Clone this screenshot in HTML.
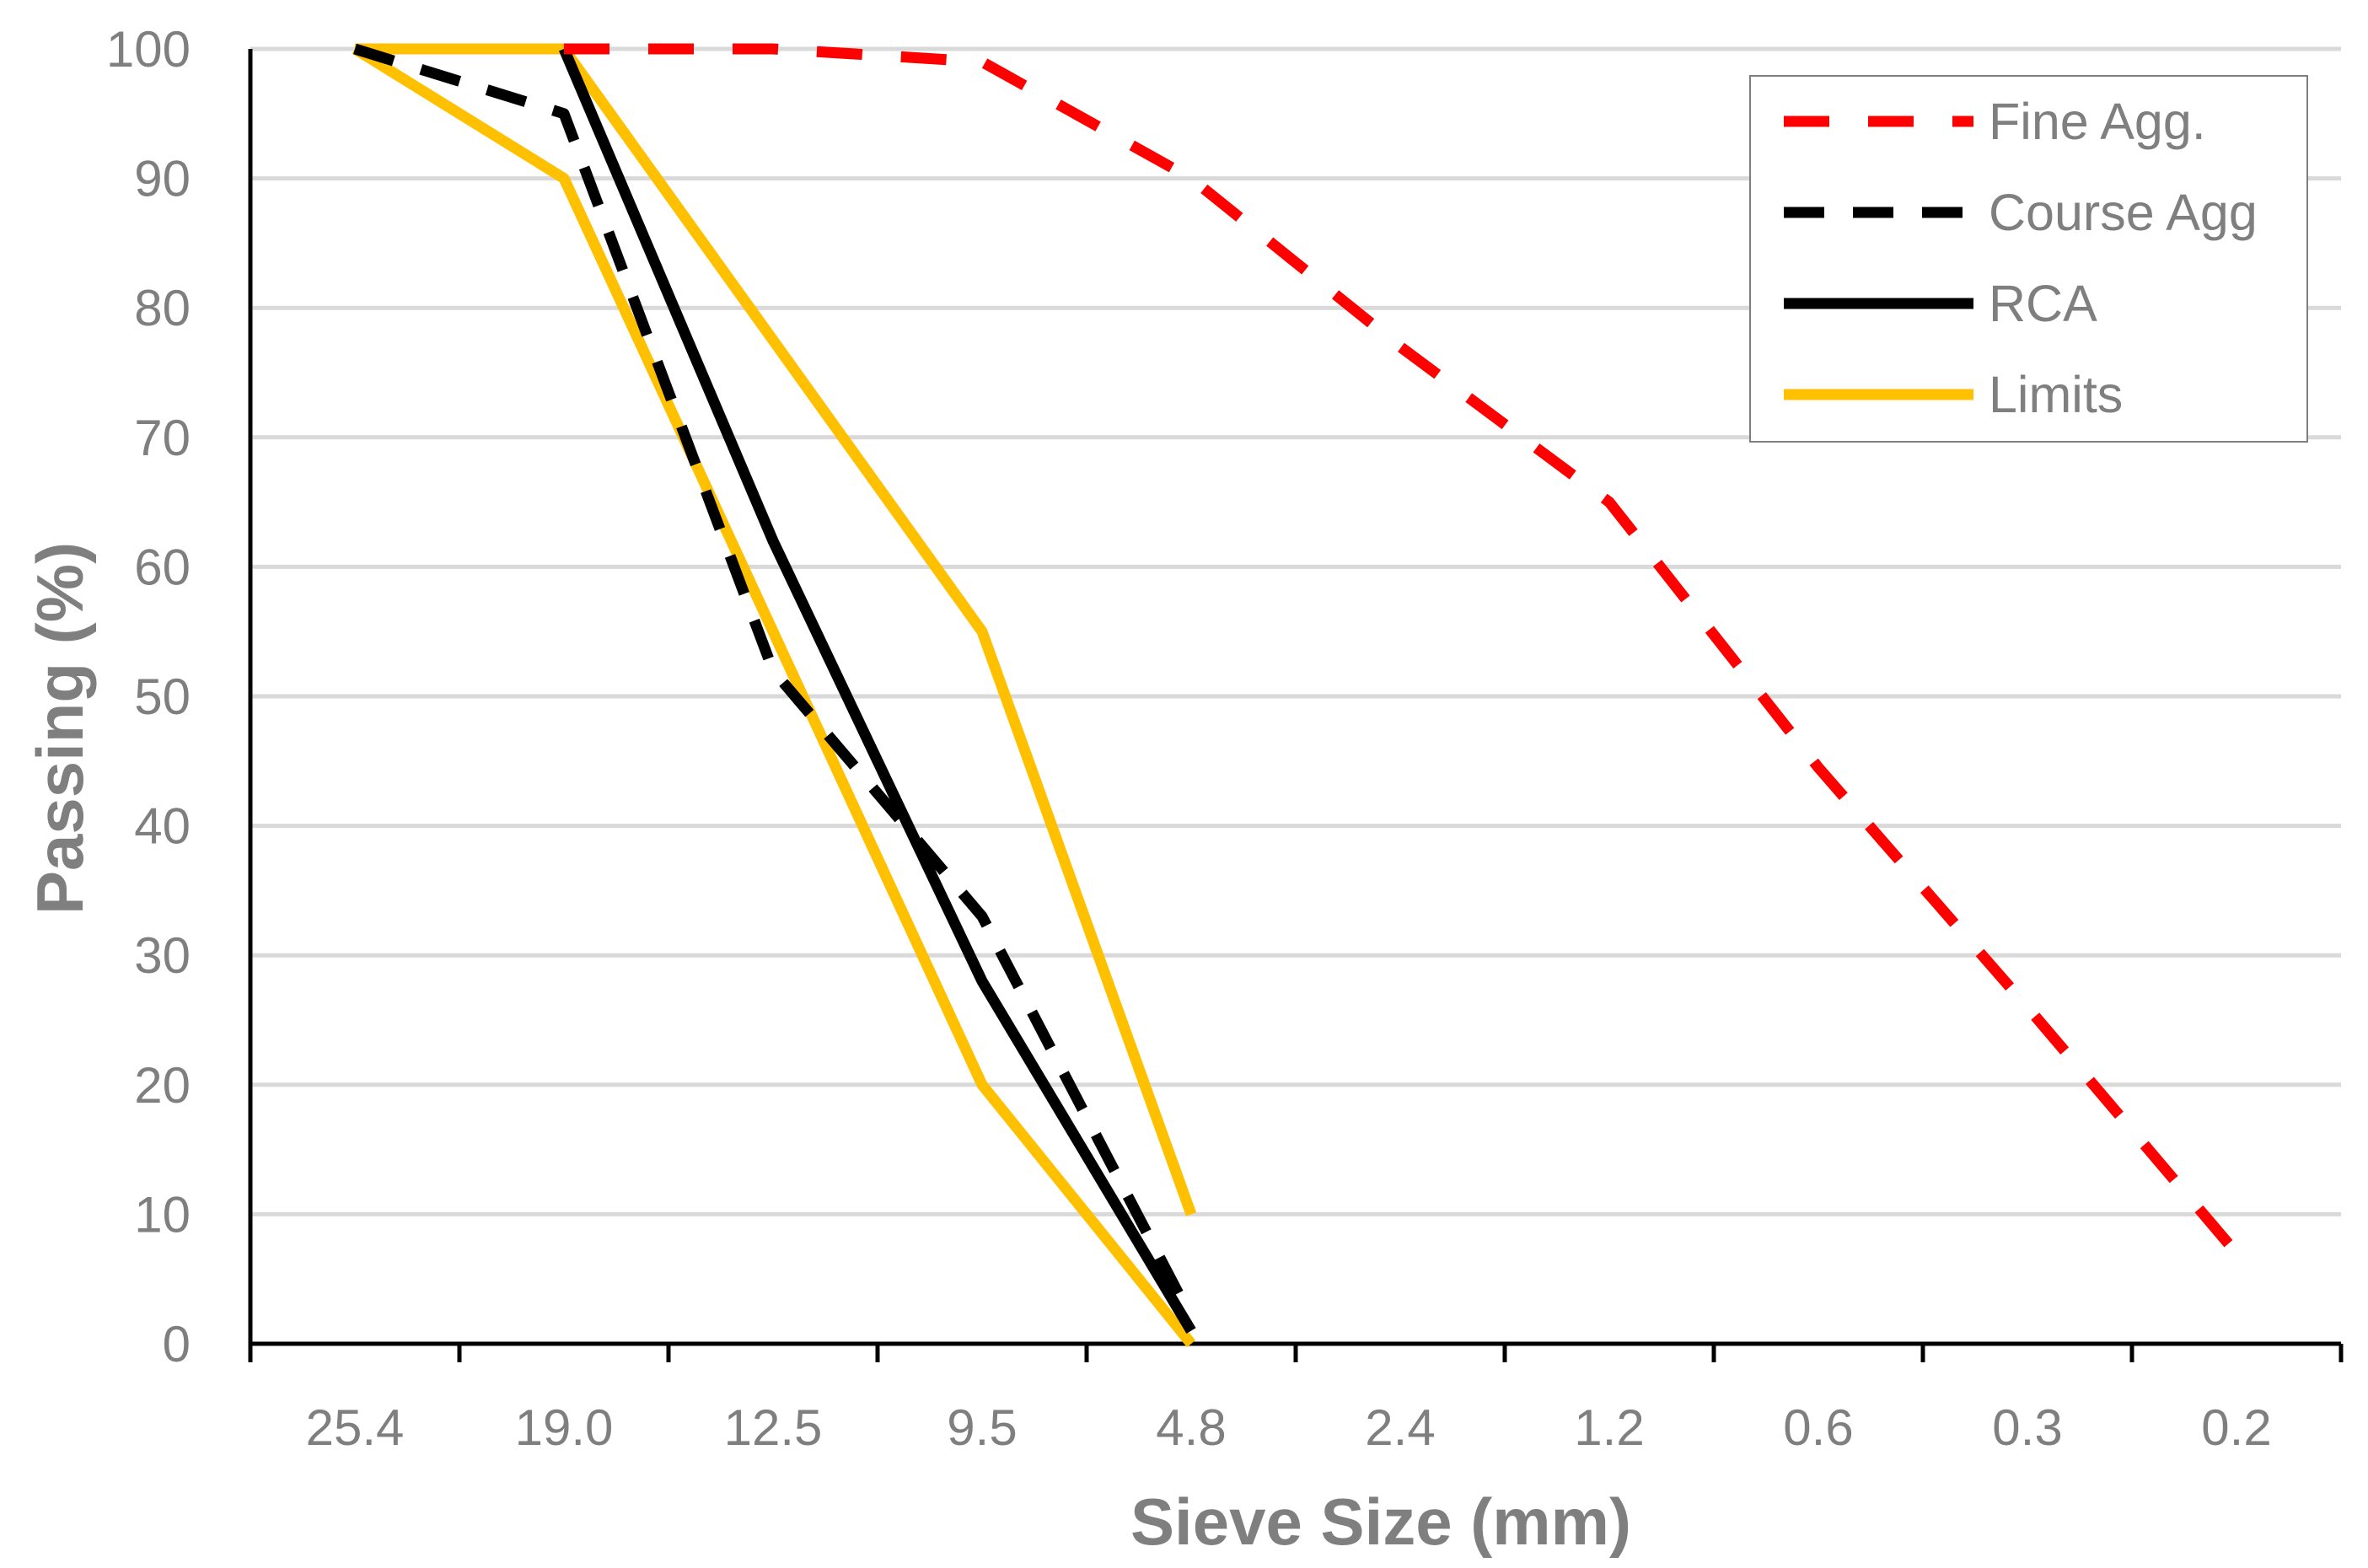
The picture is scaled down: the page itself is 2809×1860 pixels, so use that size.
<!DOCTYPE html>
<html><head><meta charset="utf-8"><style>
html,body{margin:0;padding:0;background:#fff;}
svg{display:block;font-family:"Liberation Sans","DejaVu Sans",sans-serif;}
</style></head><body>
<svg id="chart" width="2809" height="1860" viewBox="0 0 2809 1860" xmlns="http://www.w3.org/2000/svg"></svg>
<script>
const categories=["25.4","19.0","12.5","9.5","4.8","2.4","1.2","0.6","0.3","0.2"];
const yTicks=[0,10,20,30,40,50,60,70,80,90,100];
const fineAgg=[null,100,100,99,90,77,65,44.5,26,7];
const courseAgg=[100,95,52,33,2,null,null,null,null,null];
const rca=[null,100,62,28,1,null,null,null,null,null];
const limitUpper=[100,100,77.5,55,10,null,null,null,null,null];
const limitLower=[100,90,55,20,0,null,null,null,null,null];

const NS="http://www.w3.org/2000/svg";
const svg=document.getElementById('chart');
const L=297,R=2777,T=58,B=1594;
const cw=(R-L)/categories.length;
function xs(i){return L+cw*(i+0.5);}
function ys(v){return B-(B-T)*v/100;}
function mk(tag,attrs,parent){const e=document.createElementNS(NS,tag);for(const k in attrs)e.setAttribute(k,attrs[k]);(parent||svg).appendChild(e);return e;}

yTicks.forEach(v=>{
  if(v>0){const g=mk('line',{x1:L,x2:R,y1:ys(v),y2:ys(v),stroke:'#d9d9d9','stroke-width':5});
  
  }
  const t=mk('text',{x:226,y:ys(v)+21,'text-anchor':'end','font-size':60,fill:'#7f7f7f'});
  t.textContent=v;
  
  
});
const ya=mk('line',{x1:L,x2:L,y1:T,y2:B,stroke:'#000','stroke-width':5});


const xa=mk('line',{x1:L-2,x2:R,y1:B,y2:B,stroke:'#000','stroke-width':5});


for(let i=0;i<=categories.length;i++){
  const tk=mk('line',{x1:L+cw*i,x2:L+cw*i,y1:B,y2:B+22,stroke:'#000','stroke-width':5});
  
  
}
categories.forEach((c,i)=>{
  const t=mk('text',{x:xs(i),y:1714,'text-anchor':'middle','font-size':60,fill:'#7f7f7f'});
  t.textContent=c;
  
  
});
const xt=mk('text',{x:1638,y:1832,'text-anchor':'middle','font-size':78,'font-weight':'bold',fill:'#7f7f7f'});
xt.textContent='Sieve Size (mm)';


const yt=mk('text',{x:0,y:0,'text-anchor':'middle','font-size':78,'font-weight':'bold',fill:'#7f7f7f',transform:'translate(98,864) rotate(-90)'});
yt.textContent='Passing  (%)';



function series(data,color,dash,name){
  const pts=[];data.forEach((v,i)=>{if(v!==null)pts.push(xs(i)+','+ys(v));});
  const p=mk('polyline',{points:pts.join(' '),fill:'none',stroke:color,'stroke-width':13,'stroke-linejoin':'round','stroke-dasharray':dash||'none'});
  
  
}
series(limitUpper,'#ffc000',null,'limits-upper-line');
series(limitLower,'#ffc000',null,'limits-lower-line');
series(courseAgg,'#000','48,34','course-agg-line');
series(rca,'#000',null,'rca-line');
series(fineAgg,'#ff0000','54,46','fine-agg-line');

const lg=mk('g',{});


mk('rect',{x:2076,y:90,width:661,height:434,fill:'#fff',stroke:'#7f7f7f','stroke-width':2},lg);
const legendNames=["Fine Agg.","Course Agg","RCA","Limits"];
const legendStyles=[['#ff0000','54,46'],['#000','48,34'],['#000',null],['#ffc000',null]];
legendNames.forEach((n,i)=>{
  const y=144+108*i;
  const e=mk('g',{},lg);
  
  
  mk('line',{x1:2116,x2:2341,y1:y,y2:y,stroke:legendStyles[i][0],'stroke-width':13,'stroke-dasharray':legendStyles[i][1]||'none'},e);
  const t=mk('text',{x:2359,y:y+21,'font-size':61,fill:'#7f7f7f'},e);
  t.textContent=n;
});
</script>
</body></html>
